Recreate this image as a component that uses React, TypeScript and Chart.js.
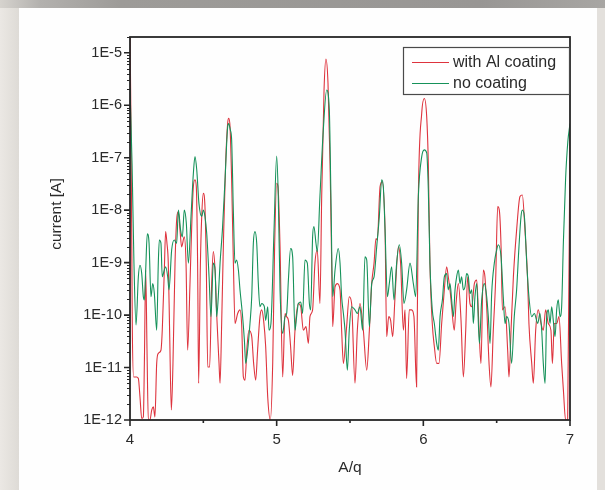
import React, { useEffect, useRef } from 'react';
import { Chart, registerables } from 'chart.js';

Chart.register(...registerables);

// ---- data (A/q positions and log10 of current [A]) ----
const seriesNames = ['with Al coating', 'no coating'];
const xTickValues = [4, 5, 6, 7];
const xMinorTickValues = [4.5, 5.5, 6.5];
const yTickExponents = [-12, -11, -10, -9, -8, -7, -6, -5];

const redAq = [
  4.000, 4.007, 4.016, 4.025, 4.045, 4.057, 4.068, 4.080, 4.091, 4.098, 4.107, 4.116, 4.125, 4.136, 4.148, 4.159, 4.170,
  4.182, 4.193, 4.211, 4.220, 4.234, 4.243, 4.252, 4.261, 4.270, 4.282, 4.293, 4.307, 4.320, 4.330, 4.341, 4.352, 4.370,
  4.382, 4.393, 4.409, 4.420, 4.432, 4.443, 4.452, 4.461, 4.468, 4.480, 4.489, 4.500, 4.511, 4.520, 4.530, 4.543, 4.557,
  4.568, 4.580, 4.593, 4.607, 4.614, 4.625, 4.639, 4.652, 4.666, 4.673, 4.682, 4.693, 4.705, 4.716, 4.734, 4.750, 4.761,
  4.773, 4.784, 4.798, 4.811, 4.830, 4.843, 4.857, 4.870, 4.886, 4.898, 4.911, 4.925, 4.939, 4.957, 4.973, 4.986, 5.000,
  5.009, 5.023, 5.041, 5.057, 5.068, 5.080, 5.095, 5.109, 5.125, 5.148, 5.164, 5.182, 5.200, 5.216, 5.227, 5.245, 5.261,
  5.277, 5.295, 5.307, 5.323, 5.336, 5.350, 5.364, 5.375, 5.382, 5.398, 5.414, 5.432, 5.443, 5.455, 5.477, 5.495, 5.511,
  5.534, 5.550, 5.568, 5.591, 5.614, 5.632, 5.648, 5.664, 5.677, 5.686, 5.705, 5.720, 5.739, 5.750, 5.764, 5.777, 5.791,
  5.807, 5.830, 5.845, 5.864, 5.875, 5.886, 5.904, 5.920, 5.936, 5.954, 5.966, 5.989, 6.007, 6.023, 6.034, 6.045, 6.061,
  6.075, 6.091, 6.107, 6.125, 6.143, 6.159, 6.170, 6.182, 6.193, 6.211, 6.223, 6.239, 6.257, 6.273, 6.289, 6.302, 6.318,
  6.330, 6.348, 6.364, 6.380, 6.393, 6.409, 6.420, 6.432, 6.448, 6.461, 6.477, 6.493, 6.507, 6.518, 6.530, 6.539, 6.557,
  6.575, 6.584, 6.598, 6.614, 6.636, 6.659, 6.675, 6.693, 6.711, 6.720, 6.739, 6.750, 6.766, 6.784, 6.802, 6.818, 6.834,
  6.852, 6.870, 6.880, 6.893, 6.909, 6.925, 6.943, 6.955, 6.970, 6.984, 7.000,
];
const redLog = [
  -4.6, -6.47, -10.29, -11.18, -11.18, -11.21, -11.56, -11.97, -11.94, -10.92, -9.14, -10.67, -12.0, -12.0, -11.81, -11.75, -11.94,
  -10.92, -10.73, -10.67, -10.29, -9.14, -8.41, -8.63, -9.01, -10.29, -11.81, -10.92, -9.01, -8.12, -8.03, -8.38, -8.70, -8.51,
  -9.01, -10.67, -9.40, -8.38, -7.55, -7.42, -7.55, -9.01, -11.30, -9.01, -8.12, -7.68, -7.93, -9.01, -10.99, -10.99, -9.40,
  -8.79, -9.14, -10.10, -10.92, -11.30, -10.16, -8.38, -7.11, -6.34, -6.25, -6.41, -7.42, -9.01, -10.16, -9.97, -9.90, -10.16,
  -11.18, -11.24, -10.60, -10.29, -10.41, -10.92, -11.24, -10.67, -10.03, -9.90, -10.10, -10.60, -11.56, -12.0, -10.92, -8.70, -7.49,
  -7.55, -8.70, -11.18, -9.97, -10.03, -10.10, -10.60, -11.15, -10.29, -9.78, -9.84, -10.29, -10.22, -10.54, -10.03, -9.90, -9.01,
  -8.76, -9.78, -7.74, -5.71, -5.12, -5.58, -7.11, -9.01, -10.22, -9.46, -9.40, -9.52, -10.29, -10.92, -10.22, -9.65, -9.78,
  -11.30, -10.29, -9.78, -10.29, -11.05, -10.29, -9.40, -9.01, -8.54, -8.57, -7.55, -7.46, -8.38, -10.41, -10.03, -10.10, -10.41,
  -9.65, -8.70, -9.01, -10.29, -9.90, -11.21, -9.90, -9.90, -10.03, -11.37, -7.74, -6.15, -5.87, -6.22, -7.11, -9.01, -10.16,
  -10.60, -10.92, -10.92, -10.16, -9.52, -9.08, -9.27, -9.52, -9.84, -10.29, -9.78, -9.40, -10.10, -11.18, -10.29, -9.27, -9.78,
  -9.84, -9.40, -9.33, -10.29, -10.92, -9.14, -9.27, -9.84, -10.92, -11.37, -10.29, -9.33, -7.93, -8.00, -8.70, -9.90, -9.84,
  -10.67, -11.18, -10.29, -9.27, -8.38, -7.74, -7.71, -8.38, -9.33, -10.16, -10.92, -11.30, -10.29, -9.90, -10.16, -10.29, -9.90,
  -10.16, -10.29, -10.92, -10.16, -10.16, -10.03, -10.92, -11.43, -12.0, -12.0, -6.45,
];

const greenAq = [
  4.000, 4.014, 4.027, 4.041, 4.057, 4.068, 4.080, 4.091, 4.098, 4.107, 4.118, 4.130, 4.143, 4.155, 4.166, 4.182, 4.193,
  4.200, 4.211, 4.220, 4.234, 4.243, 4.257, 4.266, 4.284, 4.302, 4.318, 4.330, 4.345, 4.357, 4.370, 4.384, 4.398, 4.416,
  4.432, 4.443, 4.455, 4.470, 4.489, 4.500, 4.511, 4.523, 4.539, 4.552, 4.568, 4.580, 4.591, 4.602, 4.614, 4.630, 4.648,
  4.666, 4.673, 4.684, 4.693, 4.705, 4.716, 4.727, 4.739, 4.750, 4.766, 4.780, 4.789, 4.802, 4.818, 4.830, 4.841, 4.852,
  4.864, 4.875, 4.886, 4.898, 4.916, 4.925, 4.939, 4.948, 4.961, 4.982, 5.000, 5.011, 5.023, 5.041, 5.057, 5.068, 5.080,
  5.095, 5.109, 5.125, 5.136, 5.148, 5.164, 5.177, 5.193, 5.209, 5.223, 5.232, 5.245, 5.254, 5.268, 5.277, 5.295, 5.318,
  5.341, 5.359, 5.370, 5.382, 5.398, 5.420, 5.432, 5.443, 5.455, 5.466, 5.482, 5.495, 5.511, 5.534, 5.550, 5.568, 5.586,
  5.602, 5.614, 5.632, 5.648, 5.664, 5.682, 5.700, 5.716, 5.727, 5.739, 5.755, 5.768, 5.784, 5.800, 5.818, 5.836, 5.852,
  5.868, 5.886, 5.909, 5.932, 5.948, 5.966, 5.989, 6.007, 6.023, 6.034, 6.045, 6.061, 6.075, 6.091, 6.102, 6.114, 6.130,
  6.143, 6.159, 6.170, 6.182, 6.193, 6.205, 6.216, 6.227, 6.239, 6.250, 6.261, 6.273, 6.284, 6.295, 6.307, 6.318, 6.330,
  6.341, 6.352, 6.364, 6.382, 6.398, 6.416, 6.432, 6.443, 6.455, 6.466, 6.484, 6.500, 6.511, 6.530, 6.545, 6.557, 6.568,
  6.584, 6.602, 6.620, 6.636, 6.652, 6.666, 6.675, 6.689, 6.705, 6.720, 6.739, 6.757, 6.780, 6.795, 6.807, 6.818, 6.830,
  6.841, 6.852, 6.864, 6.875, 6.886, 6.898, 6.909, 6.920, 6.932, 6.943, 6.955, 6.970, 6.985, 7.000,
];
const greenLog = [
  -5.67, -7.11, -9.01, -10.19, -9.27, -9.05, -9.21, -9.65, -9.71, -9.14, -8.45, -8.63, -9.65, -9.40, -9.59, -10.29, -9.01,
  -8.57, -8.63, -9.27, -9.14, -9.08, -9.27, -9.52, -8.76, -8.57, -8.63, -8.00, -8.38, -8.51, -8.00, -8.25, -9.01, -8.12,
  -7.30, -6.98, -7.23, -7.87, -8.12, -8.00, -8.12, -8.44, -9.27, -10.03, -9.01, -9.14, -10.03, -9.65, -9.01, -8.38, -7.42,
  -6.41, -6.35, -6.47, -6.66, -8.06, -9.01, -8.95, -9.14, -9.52, -9.97, -10.48, -10.92, -10.67, -10.16, -9.65, -8.63, -8.41,
  -8.63, -9.40, -9.84, -9.78, -9.84, -10.10, -9.84, -10.29, -10.16, -8.38, -6.97, -7.74, -9.52, -10.35, -10.03, -9.97, -9.33,
  -8.73, -8.89, -10.29, -10.03, -9.78, -9.75, -9.97, -8.95, -9.01, -9.78, -9.90, -8.51, -8.31, -8.63, -8.79, -7.74, -6.47,
  -5.71, -6.09, -7.74, -9.65, -9.14, -8.73, -9.01, -9.65, -9.97, -10.29, -11.05, -10.29, -9.84, -9.90, -9.97, -9.84, -10.29,
  -8.89, -8.95, -10.22, -9.40, -9.27, -8.70, -8.12, -7.42, -7.55, -8.38, -9.65, -9.40, -9.08, -9.71, -9.01, -8.66, -9.01,
  -9.78, -9.52, -9.01, -9.40, -9.65, -7.74, -6.98, -6.85, -6.91, -7.61, -9.01, -9.90, -10.16, -10.54, -10.67, -10.03, -9.71,
  -9.27, -9.21, -9.52, -9.40, -9.71, -10.03, -9.52, -9.27, -9.14, -9.40, -9.27, -9.52, -9.46, -9.21, -9.27, -9.59, -9.52,
  -10.16, -9.65, -9.40, -10.54, -9.71, -9.40, -9.65, -10.03, -10.54, -9.59, -9.01, -8.76, -8.66, -8.89, -9.65, -10.16, -10.03,
  -10.16, -10.92, -10.03, -9.52, -8.70, -8.12, -8.00, -8.12, -9.01, -9.65, -10.03, -9.97, -10.16, -9.97, -10.29, -10.92, -11.30,
  -10.03, -9.90, -10.16, -9.84, -10.10, -10.41, -9.90, -9.71, -10.03, -9.84, -8.60, -7.40, -6.70, -6.35,
];

const RED = 'rgb(222, 52, 62)';
const GREEN = 'rgb(22, 146, 90)';
const TEXT = '#2a2a2a';
const FONT = '"Liberation Sans", Arial, Helvetica, sans-serif';

const toPoints = (xs: number[], logs: number[]) => xs.map((x, i) => ({ x, y: Math.pow(10, logs[i]) }));

const decorPlugin = {
  id: 'decor',
  afterDatasetsDraw(chart: any) {
    const { ctx, chartArea, scales } = chart;
    const { left, top, right, bottom } = chartArea;
    const xs = scales.x;
    const ys = scales.y;
    ctx.save();
    ctx.strokeStyle = '#262626';
    ctx.lineWidth = 1.6;
    ctx.lineCap = 'butt';
    ctx.beginPath();
    yTickExponents.forEach((e) => {
      const p = ys.getPixelForValue(Math.pow(10, e));
      ctx.moveTo(left - 6, p);
      ctx.lineTo(left, p);
    });
    ctx.stroke();
    ctx.lineWidth = 1;
    ctx.beginPath();
    yTickExponents.forEach((e) => {
      for (let m = 2; m <= 9; m++) {
        const v = m * Math.pow(10, e);
        if (v > ys.max) break;
        const p = Math.round(ys.getPixelForValue(v)) + 0.5;
        ctx.moveTo(left - 3, p);
        ctx.lineTo(left, p);
      }
    });
    ctx.stroke();
    ctx.lineWidth = 1.6;
    ctx.beginPath();
    xTickValues.forEach((v) => {
      const p = xs.getPixelForValue(v);
      ctx.moveTo(p, bottom);
      ctx.lineTo(p, bottom + 6);
    });
    xMinorTickValues.forEach((v) => {
      const p = xs.getPixelForValue(v);
      ctx.moveTo(p, bottom);
      ctx.lineTo(p, bottom + 3);
    });
    ctx.stroke();
    ctx.lineWidth = 1.8;
    ctx.strokeRect(left, top, right - left, bottom - top);

    // legend
    const lx = 403, ly = 47, lw = 166, lh = 47;
    ctx.fillStyle = '#ffffff';
    ctx.fillRect(lx, ly, lw, lh);
    ctx.strokeStyle = '#4a4a4a';
    ctx.lineWidth = 1.2;
    ctx.strokeRect(lx + 0.5, ly + 0.5, lw, lh);
    const rows = [
      { label: seriesNames[0], color: RED, y: 62 },
      { label: seriesNames[1], color: GREEN, y: 83 },
    ];
    ctx.font = `16px ${FONT}`;
    ctx.textBaseline = 'middle';
    ctx.textAlign = 'left';
    rows.forEach((r) => {
      ctx.strokeStyle = r.color;
      ctx.lineWidth = 1.1;
      ctx.beginPath();
      ctx.moveTo(412, r.y + 0.5);
      ctx.lineTo(449, r.y + 0.5);
      ctx.stroke();
      ctx.fillStyle = TEXT;
      ctx.fillText(r.label, 453, r.y + 1);
    });

    // y axis title
    ctx.save();
    ctx.translate(57, 214);
    ctx.rotate(-Math.PI / 2);
    ctx.textAlign = 'center';
    ctx.textBaseline = 'middle';
    ctx.font = `15.5px ${FONT}`;
    ctx.fillStyle = TEXT;
    ctx.fillText('current [A]', 0, 0);
    ctx.restore();
    ctx.restore();
  },
};

export default function App() {
  const canvasRef = useRef<HTMLCanvasElement | null>(null);

  useEffect(() => {
    const canvas = canvasRef.current;
    if (!canvas) return;
    const chart = new Chart(canvas, {
      type: 'line',
      data: {
        datasets: [
          {
            label: seriesNames[0],
            data: toPoints(redAq, redLog),
            borderColor: RED,
            borderWidth: 1.1,
            pointRadius: 0,
            cubicInterpolationMode: 'monotone',
            fill: false,
            order: 1,
          },
          {
            label: seriesNames[1],
            data: toPoints(greenAq, greenLog),
            borderColor: GREEN,
            borderWidth: 1.1,
            pointRadius: 0,
            cubicInterpolationMode: 'monotone',
            fill: false,
            order: 0,
          },
        ],
      },
      options: {
        animation: false,
        responsive: false,
        maintainAspectRatio: false,
        devicePixelRatio: 1,
        events: [],
        layout: { padding: { top: 37, right: 35, left: 0, bottom: 0 } },
        plugins: { legend: { display: false }, tooltip: { enabled: false }, title: { display: false } },
        scales: {
          x: {
            type: 'linear',
            min: 4,
            max: 7,
            afterBuildTicks: (s: any) => {
              s.ticks = xTickValues.map((v) => ({ value: v }));
            },
            afterFit: (s: any) => {
              s.height = 70;
            },
            grid: { display: false, drawTicks: false },
            border: { display: false },
            ticks: {
              padding: 11,
              color: TEXT,
              maxRotation: 0,
              autoSkip: false,
              font: { family: FONT, size: 15 },
              callback: (v: any) => String(v),
            },
            title: {
              display: true,
              text: 'A/q',
              color: TEXT,
              font: { family: FONT, size: 15.5 },
              padding: { top: 0, bottom: 13 },
            },
          },
          y: {
            type: 'logarithmic',
            min: 1e-12,
            max: 2e-5,
            afterBuildTicks: (s: any) => {
              s.ticks = yTickExponents.map((e) => ({ value: Math.pow(10, e) }));
            },
            afterFit: (s: any) => {
              s.width = 130;
            },
            grid: { display: false, drawTicks: false },
            border: { display: false },
            ticks: {
              padding: 8,
              color: TEXT,
              autoSkip: false,
              font: { family: FONT, size: 14.5 },
              callback: (v: any) => '1E' + Math.round(Math.log10(Number(v))),
            },
            title: { display: false },
          },
        },
      },
      plugins: [decorPlugin],
    });
    return () => chart.destroy();
  }, []);

  return (
    <div style={{ position: 'fixed', left: 0, top: 0, width: 605, height: 490, background: '#e3e0dc', overflow: 'hidden' }}>
      <div
        style={{
          position: 'absolute',
          left: 0,
          top: 0,
          width: 605,
          height: 8,
          background: 'linear-gradient(to right, #d6d3ce 0px, #b3b1ae 40px, #9d9b98 120px, #989694 480px, #a8a6a3 605px)',
        }}
      />
      <div
        style={{
          position: 'absolute',
          left: 0,
          top: 8,
          width: 19,
          height: 482,
          background: 'linear-gradient(to right, #ebe8e4, #dedbd6)',
        }}
      />
      <div style={{ position: 'absolute', left: 19, top: 8, width: 578, height: 482, background: '#fefefe' }} />
      <canvas
        ref={canvasRef}
        width={605}
        height={490}
        style={{ position: 'absolute', left: 0, top: 0, width: 605, height: 490 }}
      />
    </div>
  );
}
